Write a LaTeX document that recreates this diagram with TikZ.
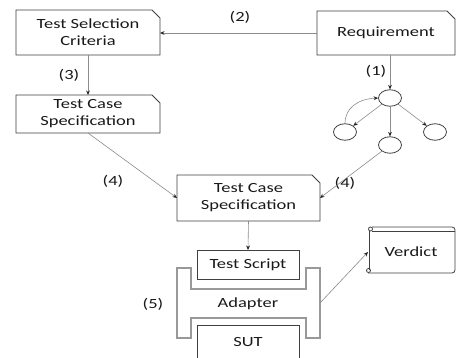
\documentclass[tikz,border=0pt]{standalone}
\usepackage{fontspec}
\setmainfont{Carlito}
\usetikzlibrary{shapes.geometric,arrows.meta,calc}
\newcommand\sx[1]{\scalebox{1.32}[1]{#1}}
\newcommand\chamfbox[1]{\draw[boxline] (#1.south west) -- (#1.north west) -- ([xshift=-8pt]#1.north east) -- ([yshift=-8pt]#1.north east) -- (#1.south east) -- cycle;}
\begin{document}
\begin{tikzpicture}[x=1pt,y=-1pt,
  txt/.style={font=\fontsize{14}{17}\selectfont, text=black!90, align=center, inner sep=0pt},
  boxn/.style={txt, draw=none, outer sep=0pt},
  boxline/.style={draw=black!75, line width=0.8pt},
  circ/.style={ellipse, draw=black!75, line width=0.8pt, minimum width=23pt, minimum height=16.5pt, inner sep=0pt},
  conn/.style={draw=black!45, line width=0.6pt, -{Stealth[length=4.5pt,width=3.8pt,color=black!85]}},
  adapt/.style={draw=black!40, line width=1.2pt}]
\useasboundingbox (0,0) rectangle (456,358);
\clip (0,0) rectangle (456,358);
\fill[white] (0,0) rectangle (456,358);

% boxes
\node[boxn, minimum width=144pt, minimum height=45pt] (tsc) at (88,32.5) {\sx{Test Selection}\\\sx{Criteria}};
\chamfbox{tsc}
\node[boxn, minimum width=144pt, minimum height=38pt] (tcs1) at (88,114) {\sx{Test Case}\\\sx{Specification}};
\chamfbox{tcs1}
\node[boxn, minimum width=138pt, minimum height=44pt] (req) at (386,33) {\sx{Requirement}};
\chamfbox{req}
\node[boxn, minimum width=143pt, minimum height=46pt] (tcs2) at (248.5,198) {\sx{Test Case}\\\sx{Specification}};
\chamfbox{tcs2}
\node[boxn, boxline, minimum width=102pt, minimum height=29pt] (ts) at (248,264.5) {\sx{Test Script}};

% adapter
\draw[adapt] (177,268) -- (191,268) -- (191,289) -- (306,289) -- (306,268) -- (320,268) -- (320,338) -- (306,338) -- (306,318) -- (191,318) -- (191,338) -- (177,338) -- cycle;
\node[txt] (adtxt) at (248,304) {\sx{Adapter}};
\coordinate (adr) at (320,303);

% SUT
\draw[boxline] (197,325) -- (197,372) (299,372) -- (299,325) -- (197,325);
\node[txt] (suttxt) at (248,342) {\sx{SUT}};

% verdict scroll
\node[boxn, minimum width=86pt, minimum height=42pt] (verd) at (411,252) {\sx{Verdict}};
\draw[boxline] (372,227) -- (452,227) to[out=0,in=90] (455,230) -- (455,270) to[out=-90,in=0] (452,273) -- (368,273);
\draw[boxline] (372,231) -- (455,231);
\draw[boxline] (369,231) -- (369,270);
\draw[boxline] (370.5,229) circle[radius=2pt];
\draw[boxline] (368.5,270.5) circle[radius=2pt];

% graph
\node[circ] (c0) at (390,98) {};
\node[circ] (c1) at (345,132) {};
\node[circ] (c2) at (435,132) {};
\node[circ] (c3) at (390,145) {};

% labels
\node[txt] (l1) at (376,71) {\sx{(1)}};
\node[txt] (l2) at (240,17) {\sx{(2)}};
\node[txt] (l3) at (69,75) {\sx{(3)}};
\node[txt] (l4a) at (113,181) {\sx{(4)}};
\node[txt] (l4b) at (345,183) {\sx{(4)}};
\node[txt] (l5) at (153,304) {\sx{(5)}};

% connectors
\draw[conn] (req.west) -- (req.west -| tsc.east);
\draw[conn] (tsc.south) -- (tcs1.north);
\draw[conn] (req.south -| c0) -- (c0.north);
\draw[conn] (c0) -- (c1);
\draw[conn] (c0) -- (c2);
\draw[conn] (c0) -- (c3);
\draw[conn] (c1.north) .. controls (345,108) and (358,99) .. (c0.west);
\draw[conn] (tcs1.south) -- (tcs2.west);
\draw[conn] (c3) -- (tcs2.east);
\draw[conn] (tcs2.south) -- (ts.north);
\draw[conn] (adr) -- (verd.west);
\end{tikzpicture}
\end{document}
